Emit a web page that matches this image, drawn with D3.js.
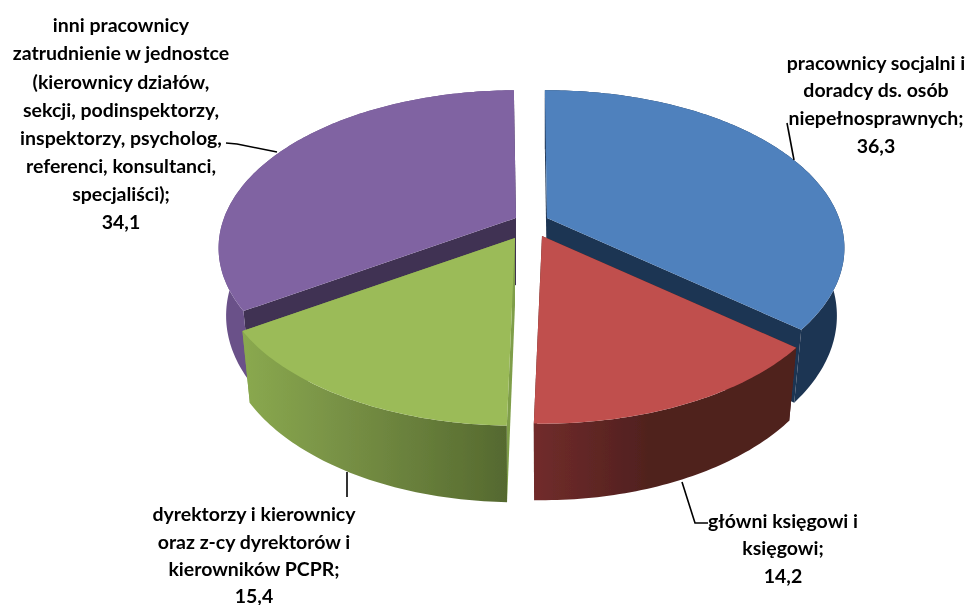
<!DOCTYPE html>
<html><head><meta charset="utf-8">
<script src="https://cdn.jsdelivr.net/npm/d3@7/dist/d3.min.js"></script>
<style>html,body{margin:0;padding:0;background:#fff}svg{display:block}
text{font-family:Lato,"Open Sans",sans-serif;font-weight:700;font-size:19.5px;fill:#000;text-anchor:middle;dominant-baseline:central}</style>
</head><body><svg id="c" width="966" height="605"></svg>
<script>
// data
const categories = ["pracownicy socjalni i doradcy ds. osób niepełnosprawnych","główni księgowi i księgowi","dyrektorzy i kierownicy oraz z-cy dyrektorów i kierowników PCPR","inni pracownicy zatrudnienie w jednostce (kierownicy działów, sekcji, podinspektorzy, inspektorzy, psycholog, referenci, konsultanci, specjaliści)"];
const values = [36.3,14.2,15.4,34.1];
const valueLabels = ["36,3","14,2","15,4","34,1"];
const labelLines = [
 ["pracownicy socjalni i","doradcy ds. osób","niepełnosprawnych;"],
 ["główni księgowi i","księgowi;"],
 ["dyrektorzy i kierownicy","oraz z-cy dyrektorów i","kierowników PCPR;"],
 ["inni pracownicy","zatrudnienie w jednostce","(kierownicy działów,","sekcji, podinspektorzy,","inspektorzy, psycholog,","referenci, konsultanci,","specjaliści);"]
];
// style and layout
const topColors = ["#4f81bd","#c0504d","#9bbb59","#8064a2"];
const cutColors = ["#1f3552","#4f201e","#7f9e48","#403152"];
const wallStops = [
 [[0,"#1f3552"],[1,"#1f3552"]],
 [[0,"#712c2b"],[.45,"#4f201e"],[1,"#4f201e"]],
 [[0,"#8aa94f"],[.4,"#768f44"],[1,"#55692f"]],
 [[0,"#6a5189"],[1,"#6a5189"]]
];
const centre = [530,227];
const explode = [[17,-9],[12,9],[-15,11],[-14,-9]];
const drawOrder = [3,0,2,1];
const R = 292, B = 152, D = 68.6, persp = 0.19, zPersp = 0.025, rot = -0.5*Math.PI/180;
const labelBoxes = [
 {x:876,ys:[62,89,117,145]},
 {x:783,ys:[520,547,575]},
 {x:254,ys:[513,541,568,595]},
 {x:121,ys:[24,52,81,109,137,165,193,221]}
];
const leaders = [
 [[787,123],[794,160]],
 [[682,482],[695,523],[708,523]],
 [[347,472],[347,497]],
 [[226,143],[237,144],[277,152]]
];

const svg = d3.select("#c");
const defs = svg.append("defs");
defs.append("filter").attr("id","soft").append("feGaussianBlur").attr("stdDeviation",0.4);
const arcs = d3.pie().sort(null).startAngle(rot).endAngle(rot+2*Math.PI)(values);
const line = d3.line();
const sx = d3.scaleLinear().domain([-1,1]).range([-R,R]);
const sy = d3.scaleLinear().domain([-1,1]).range([B,-B]);

function project(ax,ay,x,y,z){
  const w = 1+persp*y+zPersp*z;
  return [ax+sx(x)/w, ay+(sy(y)+D*z)/w];
}
arcs.forEach((a,i)=>{
  const ax = centre[0]+explode[i][0], ay = centre[1]+explode[i][1];
  const n = Math.max(8,Math.round((a.endAngle-a.startAngle)*60));
  a.angles = d3.range(n+1).map(k=>a.startAngle+(a.endAngle-a.startAngle)*k/n);
  a.rim = z=>a.angles.map(t=>project(ax,ay,Math.sin(t),Math.cos(t),z));
  a.apex = z=>project(ax,ay,0,0,z);
  const top=a.rim(0), bot=a.rim(1), xs=top.concat(bot).map(p=>p[0]);
  const g = defs.append("linearGradient").attr("id","wall"+i)
    .attr("gradientUnits","userSpaceOnUse")
    .attr("x1",d3.min(xs)).attr("x2",d3.max(xs)).attr("y1",0).attr("y2",0);
  wallStops[i].forEach(s=>g.append("stop").attr("offset",s[0]).attr("stop-color",s[1]));
});
const root = svg.append("g").attr("filter","url(#soft)");
const pie = root.append("g");
drawOrder.forEach(i=>{
  const a = arcs[i], g = pie.append("g");
  const top=a.rim(0), bot=a.rim(1);
  // cut walls
  [0,top.length-1].forEach(k=>{
    g.append("path").attr("d",line([a.apex(0),top[k],bot[k],a.apex(1)])+"Z").attr("fill",cutColors[i]);
  });
  // outer wall
  g.append("path").attr("d",line(top.concat(bot.slice().reverse()))+"Z").attr("fill",`url(#wall${i})`);
  // top face
  g.append("path").attr("d",line([a.apex(0)].concat(top))+"Z").attr("fill",topColors[i]);
});
root.append("g").selectAll("path").data(leaders).join("path")
  .attr("d",d=>line(d)).attr("fill","none").attr("stroke","#000").attr("stroke-width",1.6);
labelBoxes.forEach((b,i)=>{
  const lines = labelLines[i].concat(valueLabels[i]);
  root.append("text").selectAll("tspan").data(lines).join("tspan")
    .attr("x",b.x).attr("y",(d,k)=>b.ys[k]).text(d=>d);
});
</script></body></html>
